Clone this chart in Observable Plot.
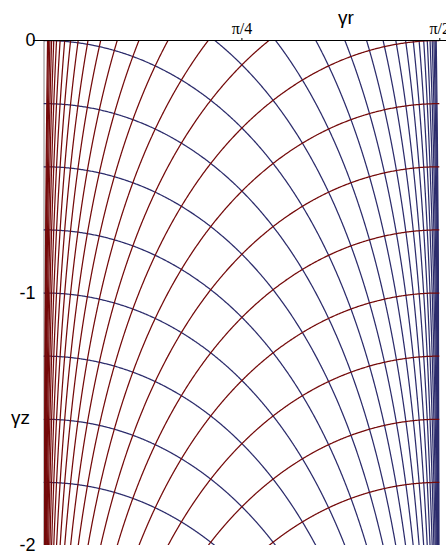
<!DOCTYPE html>
<html><head><meta charset="utf-8">
<script src="https://cdn.jsdelivr.net/npm/d3@7"></script>
<script src="https://cdn.jsdelivr.net/npm/@observablehq/plot@0.6"></script>
<style>body{margin:0;background:#fff}svg{display:block}</style>
</head><body><div id="chart"></div>
<script>
// contour levels (offsets in γz of each curve family)
const blueLevels = [-2,-1.75,-1.5,-1.25,-1,-0.75,-0.5,-0.25,0,0.25,0.5,0.75,1,1.25,1.5,1.75,2,2.25,2.5,2.75,3,3.25,3.5,3.75,4,4.25];
const redLevels  = [-2,-1.75,-1.5,-1.25,-1,-0.75,-0.5,-0.25,0,0.25,0.5,0.75,1,1.25,1.5,1.75,2,2.25,2.5,2.75,3,3.25,3.5,3.75,4,4.25];
const xTicks = [Math.PI/4, Math.PI/2];
const xTickLabels = ["π/4", "π/2"];
const yTicks = [0, -1, -2];
const yTickLabels = ["0", "-1", "-2"];
const xLabel = "γr";
const yLabel = "γz";
const zRange = [-2, 0];

const N = 300;
const clamp1 = v => Math.min(1, v);
// blue family: e^{-z} cos(γr) = const  ->  z = k + ln cos x
function blueCurve(k) {
  const [z0, z1] = zRange;
  if (k <= z0) return [];
  const xs = k <= z1 ? 0 : Math.acos(clamp1(Math.exp(z1 - k)));
  const xe = Math.acos(clamp1(Math.exp(z0 - k)));
  const pts = [];
  for (let i = 0; i <= N; i++) {
    const x = xs + (xe - xs) * i / N;
    pts.push({x, z: Math.max(z0, Math.min(z1, k + Math.log(Math.cos(x)))), level: k});
  }
  const zt = Math.min(z1, k);
  for (let i = 0; i <= N; i++) {
    const z = z0 + (zt - z0) * i / N;
    pts.push({x: Math.acos(clamp1(Math.exp(z - k))), z, level: k});
  }
  return pts.sort((a, b) => a.x - b.x);
}
// red family: e^{-z} sin(γr) = const  ->  z = m + ln sin x
function redCurve(m) {
  const [z0, z1] = zRange;
  if (m <= z0) return [];
  const xs = Math.asin(clamp1(Math.exp(z0 - m)));
  const xe = m <= z1 ? Math.PI / 2 : Math.asin(clamp1(Math.exp(z1 - m)));
  const pts = [];
  for (let i = 0; i <= N; i++) {
    const x = xs + (xe - xs) * i / N;
    pts.push({x, z: Math.max(z0, Math.min(z1, m + Math.log(Math.sin(x)))), level: m});
  }
  const zt = Math.min(z1, m);
  for (let i = 0; i <= N; i++) {
    const z = z0 + (zt - z0) * i / N;
    pts.push({x: Math.asin(clamp1(Math.exp(z - m))), z, level: m});
  }
  return pts.sort((a, b) => a.x - b.x);
}
const bluePts = blueLevels.flatMap(blueCurve);
const redPts = redLevels.flatMap(redCurve);

const chart = Plot.plot({
  width: 446,
  height: 556,
  marginLeft: 43.5,
  marginRight: 6.7,
  marginTop: 40,
  marginBottom: 11,
  x: {domain: [0, Math.PI / 2]},
  y: {domain: zRange},
  style: {fontFamily: "'Liberation Sans', Arial, sans-serif", background: "white", overflow: "visible"},
  marks: [
    Plot.ruleX([0], {stroke: "#888", strokeWidth: 1}),
    Plot.line(bluePts, {x: "x", y: "z", z: "level", stroke: "#2c2c6c", strokeWidth: 1.25, clip: true}),
    Plot.line(redPts, {x: "x", y: "z", z: "level", stroke: "#740a0a", strokeWidth: 1.25, clip: true}),
    Plot.ruleY([0], {stroke: "black", strokeWidth: 1, insetLeft: -10.5, insetRight: -7}),
    Plot.axisX(xTicks, {anchor: "top", tickSize: 3, tickPadding: 4, tickFormat: d => xTickLabels[xTicks.indexOf(d)], fontSize: 16, fontFamily: "'Liberation Serif', 'Times New Roman', serif", label: null}),
    Plot.axisY(yTicks, {anchor: "left", tickSize: 0, tickPadding: 8.5, tickFormat: d => yTickLabels[yTicks.indexOf(d)], fontSize: 18, label: null}),
    Plot.text([xLabel], {frameAnchor: "top", lineAnchor: "middle", textAnchor: "middle", dx: 104, dy: -23, fontSize: 19}),
    Plot.text([yLabel], {frameAnchor: "left", lineAnchor: "middle", textAnchor: "middle", dx: -23.5, dy: 124.5, fontSize: 19})
  ]
});
document.getElementById("chart").append(chart);
</script>
</body></html>
